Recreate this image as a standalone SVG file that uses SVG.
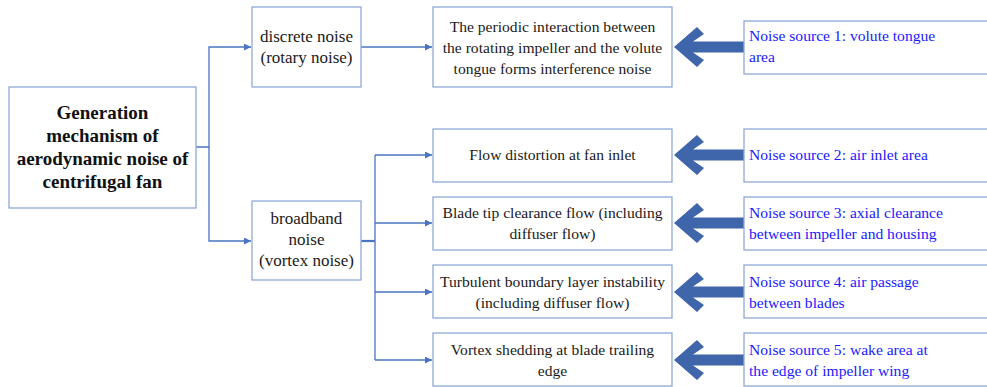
<svg xmlns="http://www.w3.org/2000/svg" width="987" height="387" viewBox="0 0 987 387">
<defs>
<style>
.box{fill:#fff;stroke:#8eaad8;stroke-width:1.3}
text{font-family:"Liberation Serif","Tinos","DejaVu Serif","Times New Roman",serif}
.t{font-size:15.6px;fill:#1a1a1a;text-anchor:middle}
.l{font-size:17px;fill:#1a1a1a;text-anchor:middle}
.b{font-size:19px;font-weight:bold;fill:#111;text-anchor:middle}
.s{font-size:15.6px;fill:#1a1aff}
.c{fill:none;stroke:#4a74c2;stroke-width:1.3}
.ba{fill:#3f65aa}
</style>
<marker id="ah" viewBox="0 0 10 10" refX="10" refY="5" markerWidth="7" markerHeight="7" markerUnits="userSpaceOnUse" orient="auto">
<path d="M0,0 L10,5 L0,10 z" fill="#4a74c2"/>
</marker>
<path id="bigArrow" d="M0,0 L23,-20 L30,-13 L19,-5.5 L70,-5.5 L70,5.5 L19,5.5 L30,13 L23,20 Z"/>
</defs>
<rect width="987" height="387" fill="#fff"/>

<g id="connectors">
<polyline class="c" points="196,147 209,147 209,47 251,47" marker-end="url(#ah)"/>
<polyline class="c" points="209,147 209,241 251,241" marker-end="url(#ah)"/>
<line class="c" x1="361" y1="47" x2="432" y2="47" marker-end="url(#ah)"/>
<line x1="361" y1="241" x2="375" y2="241" stroke="#4a74c2" stroke-width="2.2"/>
<line class="c" x1="375" y1="155" x2="375" y2="360"/>
<line class="c" x1="375" y1="155" x2="432" y2="155" marker-end="url(#ah)"/>
<line class="c" x1="375" y1="223" x2="432" y2="223" marker-end="url(#ah)"/>
<line class="c" x1="375" y1="292" x2="432" y2="292" marker-end="url(#ah)"/>
<line class="c" x1="375" y1="360" x2="432" y2="360" marker-end="url(#ah)"/>
<use href="#bigArrow" class="ba" x="674" y="47"/>
<use href="#bigArrow" class="ba" x="674" y="155"/>
<use href="#bigArrow" class="ba" x="674" y="223"/>
<use href="#bigArrow" class="ba" x="674" y="292"/>
<use href="#bigArrow" class="ba" x="674" y="360"/>
</g>

<g id="root">
<rect class="box" x="9" y="87" width="187" height="121"/>
<text class="b" x="102.5" y="119">Generation</text>
<text class="b" x="102.5" y="142">mechanism of</text>
<text class="b" x="102.5" y="165">aerodynamic noise of</text>
<text class="b" x="102.5" y="188">centrifugal fan</text>
</g>

<g id="discrete">
<rect class="box" x="252" y="7" width="109" height="80"/>
<text class="l" x="306.5" y="42">discrete noise</text>
<text class="l" x="306.5" y="63">(rotary noise)</text>
</g>

<g id="broadband">
<rect class="box" x="252" y="201" width="109" height="79"/>
<text class="l" x="306.5" y="224">broadband</text>
<text class="l" x="306.5" y="245">noise</text>
<text class="l" x="306.5" y="266">(vortex noise)</text>
</g>

<g id="m1">
<rect class="box" x="433" y="7" width="239" height="80"/>
<text class="t" x="552.5" y="32">The periodic interaction between</text>
<text class="t" x="552.5" y="53">the rotating impeller and the volute</text>
<text class="t" x="552.5" y="74">tongue forms interference noise</text>
</g>
<g id="m2">
<rect class="box" x="433" y="129" width="239" height="53"/>
<text class="t" x="552.5" y="160">Flow distortion at fan inlet</text>
</g>
<g id="m3">
<rect class="box" x="433" y="197" width="239" height="53"/>
<text class="t" x="552.5" y="218">Blade tip clearance flow (including</text>
<text class="t" x="552.5" y="239">diffuser flow)</text>
</g>
<g id="m4">
<rect class="box" x="433" y="265" width="239" height="53"/>
<text class="t" x="552.5" y="287">Turbulent boundary layer instability</text>
<text class="t" x="552.5" y="308">(including diffuser flow)</text>
</g>
<g id="m5">
<rect class="box" x="433" y="333" width="239" height="53"/>
<text class="t" x="552.5" y="355">Vortex shedding at blade trailing</text>
<text class="t" x="552.5" y="376">edge</text>
</g>

<g id="s1">
<rect class="box" x="744" y="21" width="260" height="53"/>
<text class="s" x="749" y="41">Noise source 1: volute tongue</text>
<text class="s" x="749" y="62">area</text>
</g>
<g id="s2">
<rect class="box" x="744" y="129" width="260" height="53"/>
<text class="s" x="749" y="160">Noise source 2: air inlet area</text>
</g>
<g id="s3">
<rect class="box" x="744" y="197" width="260" height="53"/>
<text class="s" x="749" y="218">Noise source 3: axial clearance</text>
<text class="s" x="749" y="239">between impeller and housing</text>
</g>
<g id="s4">
<rect class="box" x="744" y="265" width="260" height="53"/>
<text class="s" x="749" y="287">Noise source 4: air passage</text>
<text class="s" x="749" y="308">between blades</text>
</g>
<g id="s5">
<rect class="box" x="744" y="333" width="260" height="53"/>
<text class="s" x="749" y="355">Noise source 5: wake area at</text>
<text class="s" x="749" y="376">the edge of impeller wing</text>
</g>
</svg>
